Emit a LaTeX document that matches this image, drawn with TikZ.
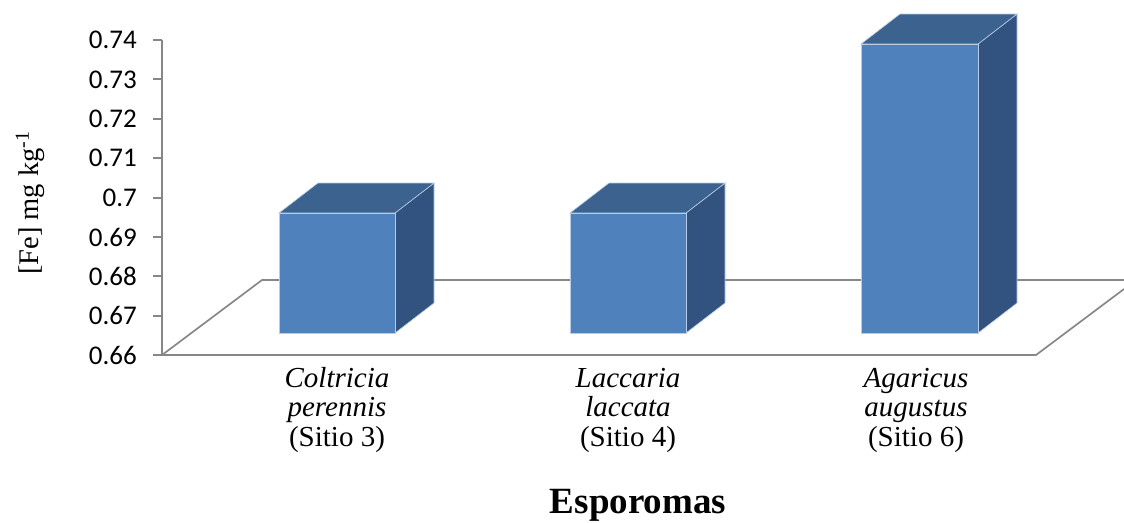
\documentclass[tikz,border=0pt]{standalone}
\usepackage{fontspec}
\setmainfont{Liberation Serif}
\newfontfamily\calibri{Carlito}

\definecolor{barblue}{HTML}{4F81BD}
\definecolor{bartop}{HTML}{3C6390}
\definecolor{barside}{HTML}{325380}
\definecolor{baredge}{HTML}{B8CCE4}
\definecolor{gridgray}{HTML}{878787}

\tikzset{
  floorline/.style={draw=gridgray, line width=1.7pt},
  axisline/.style={draw=gridgray, line width=2pt},
  barfront/.style={fill=barblue, draw=baredge, line width=0.6pt},
  bartopface/.style={fill=bartop, draw=baredge, line width=0.6pt},
  barsideface/.style={fill=barside, draw=baredge, line width=0.6pt},
  ticklabel/.style={anchor=east, inner sep=0pt, font=\calibri\fontsize{27}{30}\selectfont},
  catlabel/.style={align=center, inner sep=0pt, font=\fontsize{29}{29.5}\selectfont}
}

\begin{document}
\begin{tikzpicture}[x=1pt,y=-1pt]
\useasboundingbox (0,0) rectangle (1124,522);

% floor
\draw[floorline] (162,355) -- (1036,355) -- (1124,289);
\draw[floorline] (162,355) -- (262,280) -- (1124,280);

% y axis
\draw[axisline] (162,40) -- (162,355);
\draw[axisline] (153,40) -- (162,40);
\draw[axisline] (153,79.4) -- (162,79.4);
\draw[axisline] (153,118.8) -- (162,118.8);
\draw[axisline] (153,158.2) -- (162,158.2);
\draw[axisline] (153,197.6) -- (162,197.6);
\draw[axisline] (153,237) -- (162,237);
\draw[axisline] (153,276.4) -- (162,276.4);
\draw[axisline] (153,315.8) -- (162,315.8);
\draw[axisline] (153,355) -- (162,355);

\node[ticklabel] (t74) at (137,40) {0.74};
\node[ticklabel] (t73) at (137,79.4) {0.73};
\node[ticklabel] (t72) at (137,118.8) {0.72};
\node[ticklabel] (t71) at (137,158.2) {0.71};
\node[ticklabel] (t70) at (137,197.6) {0.7};
\node[ticklabel] (t69) at (137,237) {0.69};
\node[ticklabel] (t68) at (137,276.4) {0.68};
\node[ticklabel] (t67) at (137,315.8) {0.67};
\node[ticklabel] (t66) at (137,355) {0.66};

% bars
\filldraw[barsideface] (395,213) -- (434,183) -- (434,303) -- (395,333) -- cycle;
\filldraw[bartopface] (279,213) -- (318,183) -- (434,183) -- (395,213) -- cycle;
\filldraw[barfront] (279,213) rectangle (395,333);

\filldraw[barsideface] (686,213) -- (725,183) -- (725,303) -- (686,333) -- cycle;
\filldraw[bartopface] (570,213) -- (609,183) -- (725,183) -- (686,213) -- cycle;
\filldraw[barfront] (570,213) rectangle (686,333);

\filldraw[barsideface] (978,44) -- (1017,14) -- (1017,303) -- (978,333) -- cycle;
\filldraw[bartopface] (861,44) -- (900,14) -- (1017,14) -- (978,44) -- cycle;
\filldraw[barfront] (861,44) rectangle (978,333);

% labels
\node[catlabel] (c1) at (337,410) {\textit{Coltricia}\\\textit{perennis}\\(Sitio 3)};
\node[catlabel] (c2) at (628,410) {\textit{Laccaria}\\\textit{laccata}\\(Sitio 4)};
\node[catlabel] (c3) at (916,410) {\textit{Agaricus}\\\textit{augustus}\\(Sitio 6)};

\node[anchor=base, inner sep=0pt, font=\bfseries\fontsize{37}{42}\selectfont] (xt) at (638,513) {Esporomas};
\node[rotate=90, inner sep=0pt, font=\fontsize{28.5}{30}\selectfont] (yt) at (30,203) {[Fe] mg kg\textsuperscript{-1}};
\end{tikzpicture}
\end{document}
